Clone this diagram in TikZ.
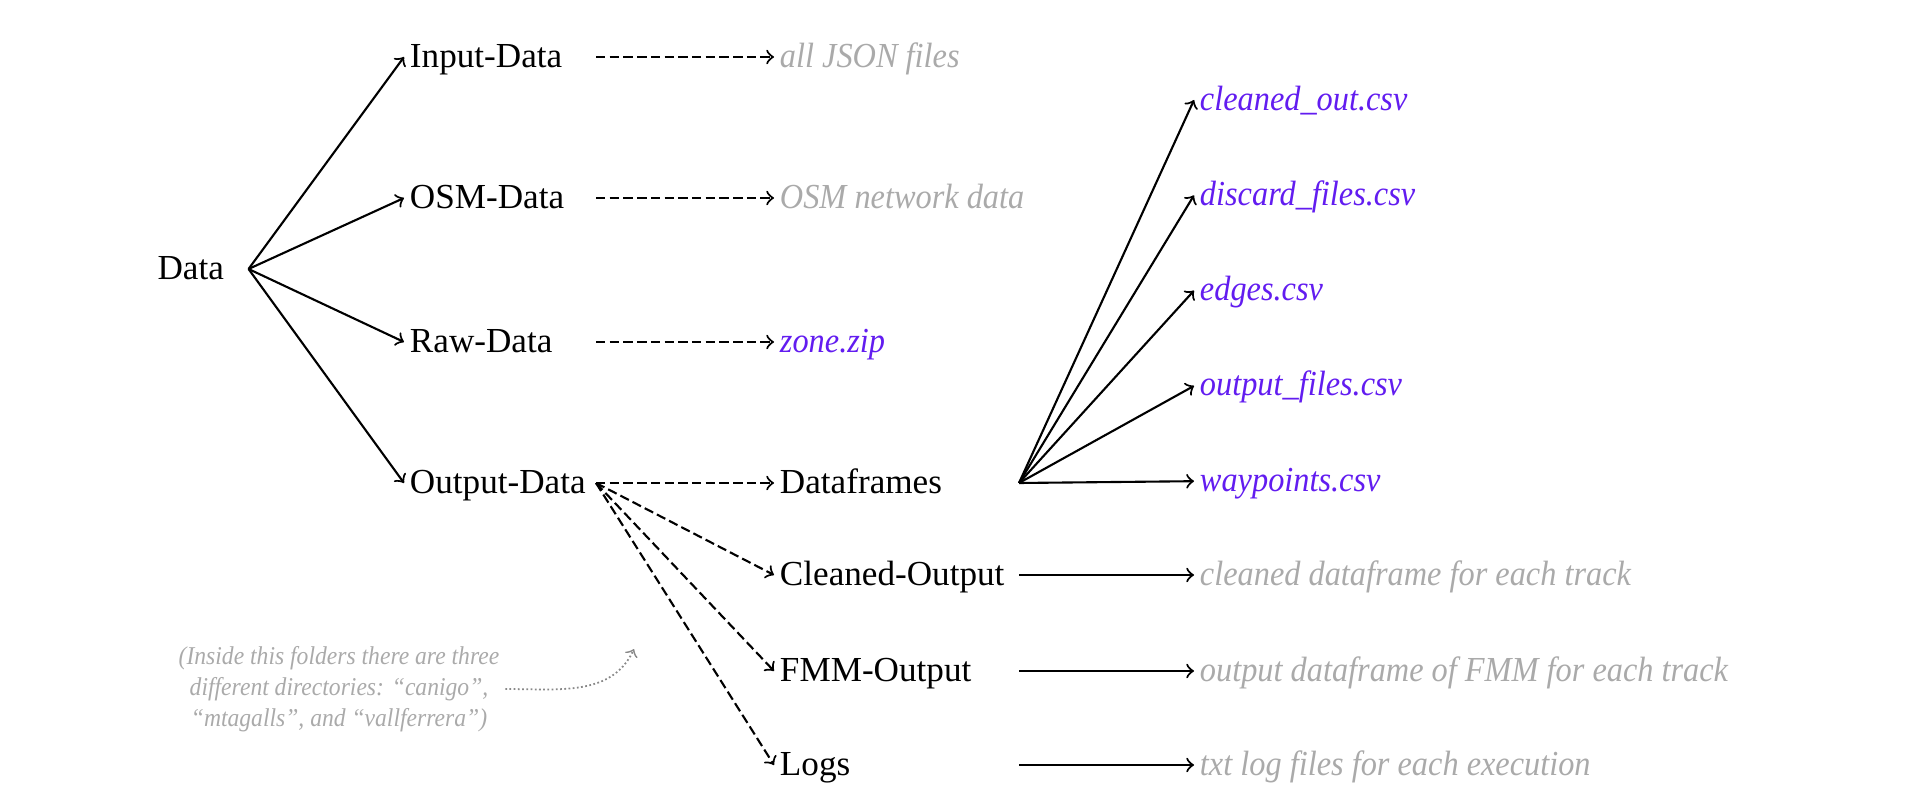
\documentclass[tikz,border=0pt]{standalone}
\usepackage{fontspec}
\setmainfont{Liberation Serif}[ItalicFeatures={FakeStretch=0.92}]
\usetikzlibrary{positioning}
\definecolor{notegray}{RGB}{170,170,170}
\definecolor{filepurple}{RGB}{98,28,240}

\begin{document}
\begin{tikzpicture}[
  dir/.style={font=\fontsize{10}{12}\selectfont, inner sep=1.5pt,
              text height=1.5ex, text depth=.25ex, anchor=west},
  desc/.style={dir, text=notegray, font=\fontsize{10}{12}\selectfont\itshape},
  csv/.style={dir, text=filepurple, font=\fontsize{10}{12}\selectfont\itshape},
  note/.style={text=notegray, align=center, inner sep=1.5pt,
               font=\fontsize{7.3}{8.8}\selectfont\itshape},
  lnk/.style={->, line width=0.6pt},
  dlnk/.style={lnk, dash pattern=on 2.7pt off 1.2pt},
  dotlnk/.style={->, notegray!80!black, line width=0.5pt,
                 dash pattern=on 0.5pt off 0.7pt}
]
\useasboundingbox (0,0) rectangle (19.2,-8.09);

% ---- racine et premier niveau -----------------------------------------
\node[dir, inner xsep=6.8pt] (data) at (1.33,-2.69) {Data};
\node[dir] (input)  at (4.04,-0.57) {Input-Data};
\node[dir] (osm)    at (4.04,-1.98) {OSM-Data};
\node[dir] (raw)    at (4.04,-3.42) {Raw-Data};
\node[dir] (output) at (4.04,-4.83) {Output-Data};
\foreach \n in {input,osm,raw,output}
  \draw[lnk] (data.east) -- (\n.west);

% ---- colonnes de depart des fleches -------------------------------------
\coordinate (colB) at (5.96,0);
\coordinate (colC) at (10.19,0);

% ---- contenu des dossiers ----------------------------------------------
\node[desc] (json)    at (7.74,-0.57) {all JSON files};
\node[desc] (network) at (7.74,-1.98) {OSM network data};
\node[csv]  (zip)     at (7.74,-3.42) {zone.zip};
\draw[dlnk] (input.west -| colB) -- (json);
\draw[dlnk] (osm.west -| colB) -- (network);
\draw[dlnk] (raw.west -| colB) -- (zip);

% ---- sous-dossiers de Output-Data --------------------------------------
\node[dir] (frames)  at (7.74,-4.83) {Dataframes};
\node[dir] (cleaned) at (7.74,-5.75) {Cleaned-Output};
\node[dir] (fmm)     at (7.74,-6.71) {FMM-Output};
\node[dir] (logs)    at (7.74,-7.65) {Logs};
\foreach \n in {frames,cleaned,fmm,logs}
  \draw[dlnk] (output.west -| colB) -- (\n.west);

% ---- fichiers csv ------------------------------------------------------
\foreach \f/\t [count=\i from 0] in {cout/cleaned\_out.csv,
    disc/discard\_files.csv, edg/edges.csv,
    outf/output\_files.csv, wayp/waypoints.csv}{
  \node[csv] (\f) at (11.94,-1.00-\i*0.953) {\t};
  \draw[lnk] (frames.west -| colC) -- (\f.west);
}

% ---- descriptions ------------------------------------------------------
\node[desc] (cdesc) at (11.94,-5.75) {cleaned dataframe for each track};
\node[desc] (fdesc) at (11.94,-6.71) {output dataframe of FMM for each track};
\node[desc] (ldesc) at (11.94,-7.65) {txt log files for each execution};
\draw[lnk] (cleaned.west -| colC) -- (cdesc);
\draw[lnk] (fmm.west -| colC) -- (fdesc);
\draw[lnk] (logs.west -| colC) -- (ldesc);

% ---- remarque ----------------------------------------------------------
\node[note] (remark) at (3.39,-6.89)
  {(Inside this folders there are three\\
   different directories: ``canigo'',\\
   ``mtagalls'', and ``vallferrera'')};
\coordinate (hint) at (6.34,-6.49);
\draw[dotlnk] (remark.east) to[out=0, in=-115] (hint);
\end{tikzpicture}
\end{document}
